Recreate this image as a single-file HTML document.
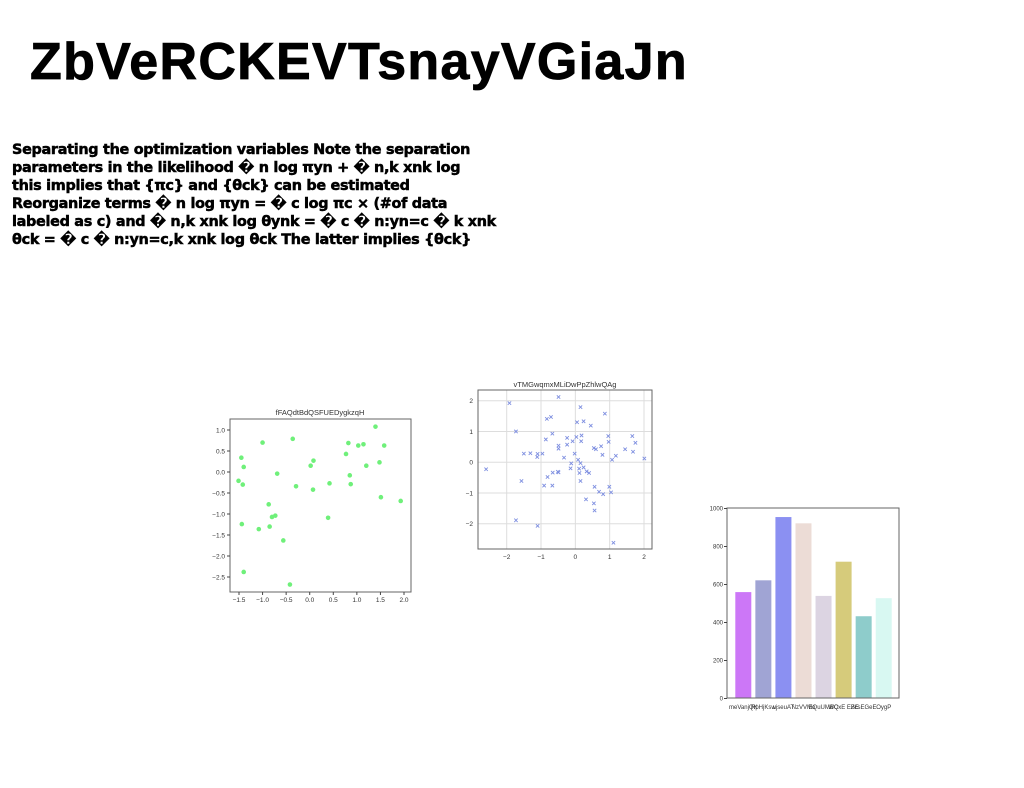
<!DOCTYPE html>
<html><head><meta charset="utf-8"><style>
body{margin:0;width:1024px;height:788px;background:#fff;position:relative;overflow:hidden;font-family:"Liberation Sans","DejaVu Sans",sans-serif}
#title{position:absolute;left:30px;top:33px;font-size:52px;font-weight:bold;margin:0;line-height:58px;white-space:nowrap;letter-spacing:1.3px;-webkit-text-stroke:0.8px #000}
#para{position:absolute;left:12px;top:141px;font-family:"DejaVu Sans",sans-serif;font-weight:bold;font-size:14.4px;line-height:18px;white-space:nowrap;margin:0;letter-spacing:-0.3px;-webkit-text-stroke:0.5px #000}
svg{position:absolute;left:0;top:0}
</style></head><body>
<h1 id="title">ZbVeRCKEVTsnayVGiaJn</h1>
<p id="para">Separating the optimization variables Note the separation<br>parameters in the likelihood � n log πyn + � n,k xnk log<br>this implies that {πc} and {θck} can be estimated<br>Reorganize terms � n log πyn = � c log πc × (#of data<br>labeled as c) and � n,k xnk log θynk = � c � n:yn=c � k xnk<br>θck = � c � n:yn=c,k xnk log θck The latter implies {θck}</p>
<svg id="svg" width="1024" height="788"></svg>
<script>
const s1x=[1.395,-1.0,-0.36,0.82,1.03,1.14,1.58,-1.45,0.77,0.08,1.48,-1.40,0.02,1.20,-0.69,-1.51,-1.42,0.85,0.42,0.87,-0.29,0.07,1.51,1.93,-0.87,-0.80,-0.73,0.39,-1.44,-0.85,-1.08,-0.56,-1.40,-0.42];
const s1y=[1.08,0.70,0.79,0.69,0.63,0.66,0.63,0.34,0.43,0.27,0.23,0.12,0.15,0.15,-0.04,-0.21,-0.30,-0.08,-0.27,-0.29,-0.34,-0.42,-0.60,-0.69,-0.77,-1.07,-1.04,-1.09,-1.24,-1.30,-1.36,-1.63,-2.38,-2.68];
const s1xt=[-1.5,-1.0,-0.5,0.0,0.5,1.0,1.5,2.0];
const s1yt=[1.0,0.5,0.0,-0.5,-1.0,-1.5,-2.0,-2.5];
const s2x=[-1.92,-0.49,-1.73,-1.73,-1.10,-2.60,-1.57,-1.50,-1.31,-1.10,-1.11,-0.96,-0.83,-0.71,-0.67,-0.86,-0.49,-0.49,-0.33,-0.91,-0.67,-0.66,-0.81,-0.51,-0.49,-0.24,-0.24,-0.14,-0.12,-0.08,-0.02,0.03,0.05,0.08,0.15,0.11,0.12,0.15,0.17,0.18,0.15,0.24,0.24,0.33,0.40,0.31,0.45,0.54,0.60,0.56,0.69,0.81,0.54,0.56,0.75,0.79,0.86,0.96,0.97,0.99,1.04,1.07,1.18,1.11,1.45,1.66,1.68,1.75,2.01];
const s2y=[1.92,2.12,1.00,-1.89,-2.07,-0.23,-0.61,0.28,0.29,0.27,0.17,0.28,1.41,1.47,0.93,0.74,0.54,0.44,0.15,-0.76,-0.76,-0.34,-0.48,-0.31,-0.33,0.79,0.57,-0.20,-0.04,0.68,0.28,0.82,1.30,0.08,-0.03,-0.21,-0.35,-0.61,0.68,0.87,1.79,1.33,-0.17,-0.30,-0.35,-1.21,1.19,0.46,0.42,-0.80,-0.96,-1.04,-1.34,-1.57,0.52,0.24,1.58,0.85,0.66,-0.80,-0.98,0.08,0.21,-2.62,0.42,0.85,0.34,0.63,0.12];
const s2xt=[-2,-1,0,1,2];
const s2yt=[2,1,0,-1,-2];
const barCats=["meVanjQK","RpHjKsw","ujseuAT","NzVVMo","EQuUMBQ","WCxE EBE","ZcsEGeE","OygP"];
const barVals=[560,622,955,922,540,720,433,528];
const barYt=[0,200,400,600,800,1000];
const barColors=["#cc77f7","#a0a4d4","#8b90f2","#ecdcd6","#dcd4e2","#d6cb7b","#8ecccb","#d8f8f2"];

const NS="http://www.w3.org/2000/svg",svg=document.getElementById('svg');
function el(t,a,p){const e=document.createElementNS(NS,t);for(const k in a)e.setAttribute(k,a[k]);(p||svg).appendChild(e);return e;}
function txt(x,y,s,sz,anchor,p){const t=el('text',{x:x,y:y,'font-size':sz,'text-anchor':anchor||'middle',fill:'#333','font-family':'Liberation Sans, DejaVu Sans, sans-serif'},p);t.textContent=s;return t;}
function lin(d0,d1,r0,r1){return v=>r0+(v-d0)*(r1-r0)/(d1-d0);}

// Chart 1
{const g=el('g',{});


const X=lin(-1.5,2.0,239,404),Y=lin(1.0,-2.5,430,577);
el('rect',{x:230,y:419,width:181,height:173,fill:'none',stroke:'#666','stroke-width':1},g);
const tt=txt(320,415,'fFAQdtBdQSFUEDygkzqH',7.5,'middle',g);


s1xt.forEach(v=>{el('line',{x1:X(v),x2:X(v),y1:592,y2:595,stroke:'#444'},g);const t=txt(X(v),602,v.toFixed(1).replace('-','−'),6.5,'middle',g);});
s1yt.forEach(v=>{el('line',{x1:227,x2:230,y1:Y(v),y2:Y(v),stroke:'#444'},g);const t=txt(225,Y(v)+2.5,v.toFixed(1).replace('-','−'),6.5,'end',g);});
s1x.forEach((v,i)=>{const c=el('circle',{cx:X(v),cy:Y(s1y[i]),r:2.3,fill:'#6ff07a'},g);});}

// Chart 2
{const g=el('g',{});


const X=lin(-2,2,506.7,644),Y=lin(2,-2,400.7,523.7);
s2xt.forEach(v=>el('line',{x1:X(v),x2:X(v),y1:390,y2:549,stroke:'#ddd','stroke-width':1},g));
s2yt.forEach(v=>el('line',{x1:478,x2:652,y1:Y(v),y2:Y(v),stroke:'#ddd','stroke-width':1},g));
el('rect',{x:478,y:390,width:174,height:159,fill:'none',stroke:'#666','stroke-width':1},g);
const tt=txt(565,387,'vTMGwqmxMLiDwPpZhlwQAg',7.5,'middle',g);


s2xt.forEach(v=>{const t=txt(X(v),559,String(v).replace('-','−'),6.5,'middle',g);});
s2yt.forEach(v=>{const t=txt(473,Y(v)+2.5,String(v).replace('-','−'),6.5,'end',g);});
s2x.forEach((v,i)=>{const x=X(v),y=Y(s2y[i]),d=1.7;const p=el('path',{d:`M${x-d},${y-d}L${x+d},${y+d}M${x-d},${y+d}L${x+d},${y-d}`,stroke:'#7d8ee0','stroke-width':0.9,fill:'none'},g);});}

// Chart 3
{const g=el('g',{});


const Y=lin(0,1000,698.5,508.5),bx=i=>743.3+i*20.06;
barVals.forEach((v,i)=>{const r=el('rect',{x:bx(i)-8,y:Y(v),width:16,height:Y(0)-Y(v),fill:barColors[i]},g);
const t=txt(bx(i),709,barCats[i],6,'middle',g);});
el('rect',{x:727,y:508,width:172,height:190,fill:'none',stroke:'#666','stroke-width':1},g);
barYt.forEach(v=>{el('line',{x1:724,x2:727,y1:Y(v),y2:Y(v),stroke:'#444'},g);const t=txt(723,Y(v)+2,String(v),6,'end',g);});}
</script>
</body></html>
